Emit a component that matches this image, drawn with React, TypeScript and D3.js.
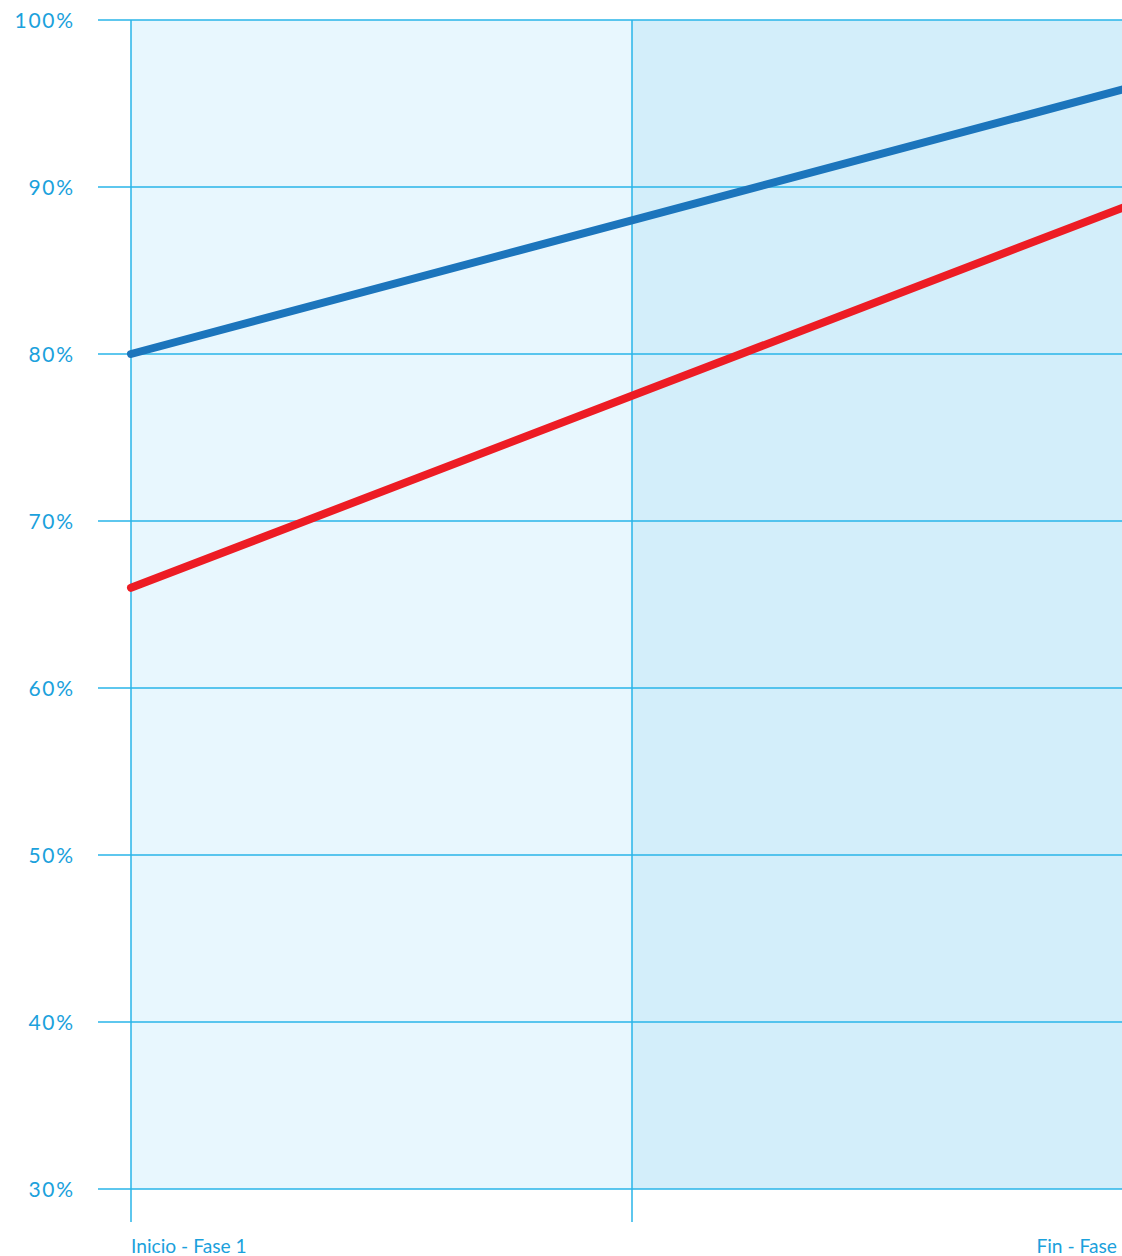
import React from "react";
import * as d3 from "d3";

const categories = ["Inicio - Fase 1", "Fin - Fase 1"];
const seriesBlue = [80, 96];
const seriesRed = [66, 89];
const yTicks = [30, 40, 50, 60, 70, 80, 90, 100];

const W = 1122;
const H = 1256;

export default function App() {
  const x = d3.scaleLinear().domain([0, 1]).range([131, 1133]);
  const y = d3.scaleLinear().domain([30, 100]).range([1189, 20]);
  const line = d3
    .line<number>()
    .x((_, i) => x(i))
    .y((d) => y(d));
  const mid = x(0.5);
  const grid = "#29B5E8";
  const textColor = "#1BA1DC";
  const font = "Lato, 'Open Sans', sans-serif";

  return (
    <svg
      width={W}
      height={H}
      style={{ position: "absolute", left: 0, top: 0, display: "block", overflow: "hidden" }}
    >
      <rect x={x(0)} y={y(100)} width={mid - x(0)} height={y(30) - y(100)} fill="#E8F7FE" />
      <rect x={mid} y={y(100)} width={x(1) - mid} height={y(30) - y(100)} fill="#D3EEFA" />
      {yTicks.map((t) => (
        <g key={t}>
          <line x1={98} x2={1140} y1={y(t)} y2={y(t)} stroke={grid} strokeWidth={1.5} />
          <text
            x={75}
            y={y(t) + 1}
            dy="0.35em"
            textAnchor="end"
            fill={textColor}
            fontFamily={font}
            fontSize={21}
            letterSpacing={1.8}
          >
            {t}%
          </text>
        </g>
      ))}
      {[x(0), mid, x(1)].map((vx, i) => (
        <line key={i} x1={vx} x2={vx} y1={y(100)} y2={1222} stroke={grid} strokeWidth={1.5} />
      ))}
      <path d={line(seriesRed) || ""} fill="none" stroke="#ED1C24" strokeWidth={8} strokeLinecap="round" />
      <path d={line(seriesBlue) || ""} fill="none" stroke="#1C75BC" strokeWidth={8} strokeLinecap="round" />
      {categories.map((c, i) => (
        <text
          key={c}
          x={x(i)}
          y={1253}
          textAnchor={i === 0 ? "start" : "end"}
          fill={textColor}
          fontFamily={font}
          fontSize={19.2}
        >
          {c}
        </text>
      ))}
    </svg>
  );
}
